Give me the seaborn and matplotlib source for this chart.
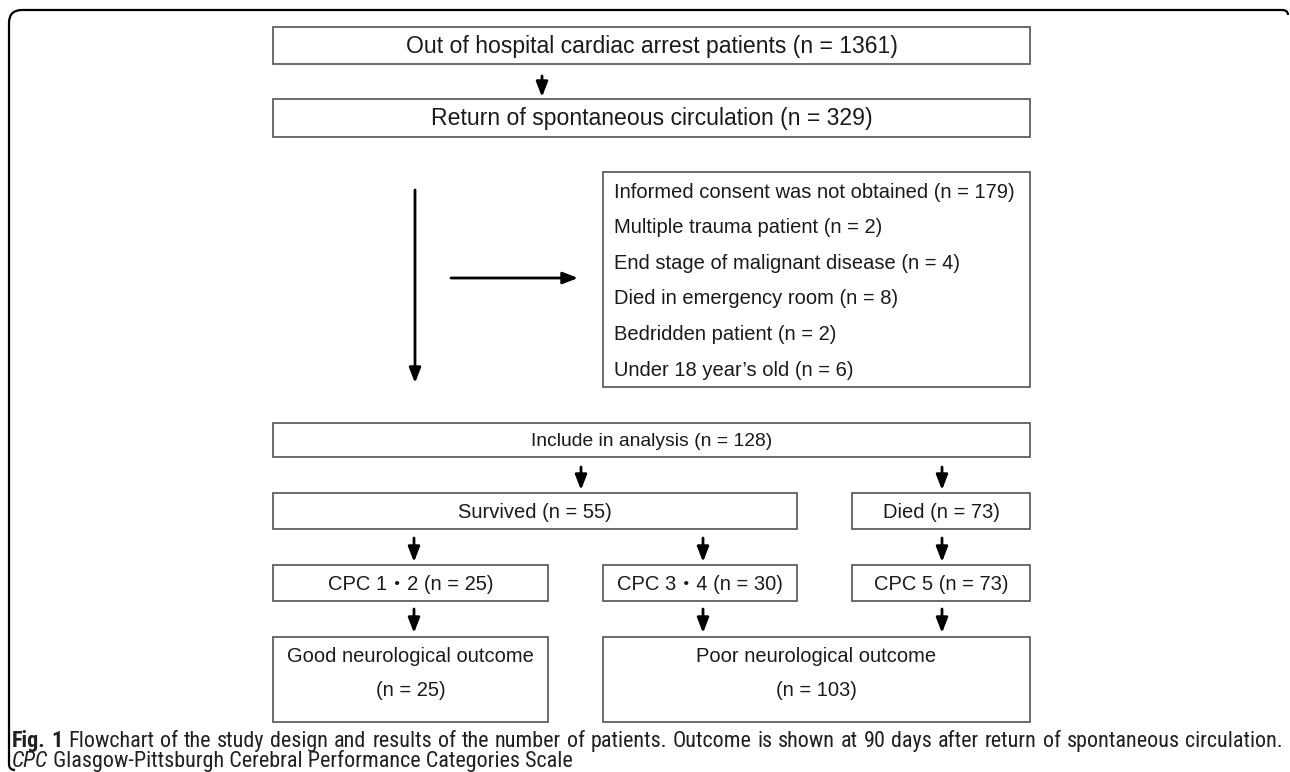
import matplotlib
matplotlib.use('Agg')
import matplotlib.pyplot as plt
import seaborn as sns
from matplotlib import font_manager
from matplotlib.patches import Rectangle, PathPatch
from matplotlib.path import Path

sns.set_style('white')
plt.rcParams['font.family'] = ['Liberation Sans', 'Noto Sans CJK JP', 'DejaVu Sans']

# flow data
top_labels = ['Out of hospital cardiac arrest patients', 'Return of spontaneous circulation']
top_n = [1361, 329]
excl_labels = ['Informed consent was not obtained', 'Multiple trauma patient',
               'End stage of malignant disease', 'Died in emergency room',
               'Bedridden patient', 'Under 18 year\u2019s old']
excl_n = [179, 2, 4, 8, 2, 6]
incl_label, incl_n = 'Include in analysis', 128
group_labels = ['Survived', 'Died']
group_n = [55, 73]
cpc_labels = ['CPC 1\u30fb2', 'CPC 3\u30fb4', 'CPC 5']
cpc_n = [25, 30, 73]
outcome_labels = ['Good neurological outcome', 'Poor neurological outcome']
outcome_n = [25, 103]

caption1 = ('Flowchart of the study design and results of the number of patients. '
            'Outcome is shown at 90 days after return of spontaneous circulation.')
caption2 = 'Glasgow-Pittsburgh Cerebral Performance Categories Scale'

# layout (pixels)
W, H = 1290, 772
fig = plt.figure(figsize=(W / 100, H / 100), dpi=100)
ax = fig.add_axes([0, 0, 1, 1])
ax.set_xlim(0, W)
ax.set_ylim(H, 0)
ax.axis('off')

FS = 14.5
BOX_EC = '#5f5f5f'
TXT = '#1a1a1a'


def nlab(lab, n):
    return f'{lab} (n = {n})'


def box(x0, y0, x1, y1, text=None, fs=FS):
    ax.add_patch(Rectangle((x0, y0), x1 - x0, y1 - y0, fill=False,
                           ec=BOX_EC, lw=1.3))
    if text is not None:
        ax.text((x0 + x1) / 2, (y0 + y1) / 2 + 1, text, ha='center', va='center',
                fontsize=fs, color=TXT)


def arrow(x0, y0, x1, y1):
    ax.annotate('', xy=(x1, y1), xytext=(x0, y0),
                arrowprops=dict(arrowstyle='-|>,head_length=0.9,head_width=0.35',
                                lw=2.0, color='black', shrinkA=0, shrinkB=0))


# outer frame
verts = [(1288, 15), (1288, 10), (1282, 10), (22, 10), (9, 10), (9, 23),
         (9, 764), (9, 770), (15, 770)]
codes = [Path.MOVETO, Path.CURVE3, Path.CURVE3, Path.LINETO, Path.CURVE3, Path.CURVE3,
         Path.LINETO, Path.CURVE3, Path.CURVE3]
ax.add_patch(PathPatch(Path(verts, codes), fill=False, lw=1.6, ec='black'))

# top boxes
box(273, 27, 1030, 64, nlab(top_labels[0], top_n[0]), fs=16.6)
arrow(542, 76, 542, 97)
box(273, 99, 1030, 137, nlab(top_labels[1], top_n[1]), fs=16.6)

# exclusion
arrow(415, 190, 415, 383)
arrow(451, 278, 578, 278)
box(603, 172, 1030, 387)
for i, (lab, n) in enumerate(zip(excl_labels, excl_n)):
    ax.text(614, 192 + i * 35.6, nlab(lab, n), ha='left', va='center',
            fontsize=FS, color=TXT)

# analysis
box(273, 423, 1030, 457, nlab(incl_label, incl_n), fs=13.9)
arrow(581, 467, 581, 490)
arrow(942, 467, 942, 490)
box(273, 493, 797, 529, nlab(group_labels[0], group_n[0]))
box(852, 493, 1030, 529, nlab(group_labels[1], group_n[1]))

for x in (414, 703, 942):
    arrow(x, 538, x, 562)
box(273, 565, 548, 601, nlab(cpc_labels[0], cpc_n[0]))
box(603, 565, 797, 601, nlab(cpc_labels[1], cpc_n[1]))
box(852, 565, 1030, 601, nlab(cpc_labels[2], cpc_n[2]))

for x in (414, 703, 942):
    arrow(x, 609, x, 633)
for (x0, x1), lab, n in zip([(273, 548), (603, 1030)], outcome_labels, outcome_n):
    box(x0, 637, x1, 722)
    ax.text((x0 + x1) / 2, 656, lab, ha='center', va='center', fontsize=FS, color=TXT)
    ax.text((x0 + x1) / 2, 690, f'(n = {n})', ha='center', va='center', fontsize=FS, color=TXT)

# caption: condensed face if one exists, first line justified
names = {f.name for f in font_manager.fontManager.ttflist}
cap_family = 'Liberation Sans'
for cand in ['Roboto Condensed', 'Liberation Sans Narrow', 'Open Sans Condensed']:
    if cand in names:
        cap_family = cand
        break
CAP_C = '#231f20'
renderer = fig.canvas.get_renderer()


def measure(s, fs, **kw):
    t = ax.text(0, 0, s, fontsize=fs, family=cap_family, **kw)
    w = t.get_window_extent(renderer).width
    t.remove()
    return w


words = [('Fig.', 'bold'), ('1', 'bold')] + [(w, 'normal') for w in caption1.split()]
# size so that the first line, with plain spaces, fills the frame width
ref_fs = 10
space = measure('a a', ref_fs) - measure('aa', ref_fs)
natural = sum(measure(w, ref_fs, fontweight=wt) for w, wt in words) + space * (len(words) - 1)
cap_fs = min(ref_fs * (1283 - 12) / natural * 0.985, 17)

widths = [measure(w, cap_fs, fontweight=wt) for w, wt in words]
gap = (1283 - 12 - sum(widths)) / (len(words) - 1)
x = 12
for (w, wt), wd in zip(words, widths):
    ax.text(x, 747, w, ha='left', va='baseline', fontsize=cap_fs,
            fontweight=wt, family=cap_family, color=CAP_C)
    x += wd + gap

t2 = ax.text(12, 767, 'CPC', ha='left', va='baseline', fontsize=cap_fs,
             style='italic', family=cap_family, color=CAP_C)
ax.annotate(' ' + caption2, xy=(1, 0), xycoords=t2, ha='left', va='bottom',
            fontsize=cap_fs, family=cap_family, color=CAP_C)

fig.savefig('out.png', dpi=100)
